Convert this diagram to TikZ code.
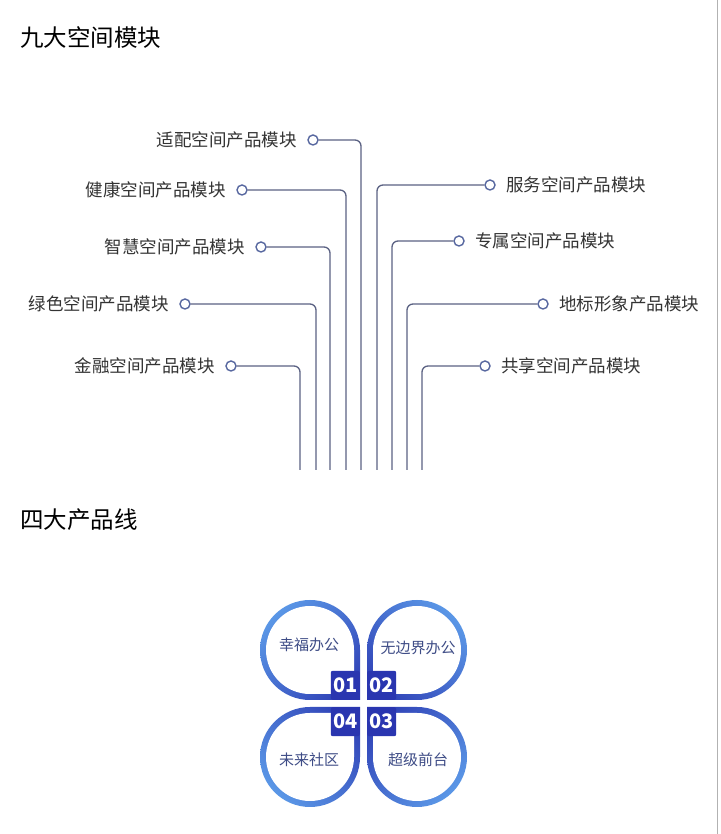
\documentclass[tikz,border=0pt]{standalone}
\usepackage{fontspec}
\setmainfont{Noto Sans CJK SC}
\usetikzlibrary{shadings}
\definecolor{lineC}{HTML}{5B6283}
\definecolor{dotC}{HTML}{5868A0}
\definecolor{txtC}{HTML}{333333}
\definecolor{lightB}{HTML}{63A8F0}
\definecolor{darkB}{HTML}{2A36B0}
\colorlet{midB}{lightB!50!darkB}
\definecolor{petalT}{HTML}{3E4C86}
\tikzset{
  dot/.style={circle,draw=dotC,line width=1.4pt,fill=white,minimum size=10pt,inner sep=0pt},
  conn/.style={draw=lineC,line width=1.3pt,rounded corners=6pt},
  lab/.style={font=\fontsize{17.5}{19}\selectfont,text=txtC,inner sep=0pt},
  head/.style={font=\fontsize{23.5}{26}\selectfont,text=black,anchor=west,inner sep=0pt},
  ptxt/.style={font=\fontsize{15}{17}\selectfont,text=petalT,inner sep=0pt},
  badge/.style={fill=darkB,rounded corners=2pt,minimum size=29pt,inner sep=0pt,text=white,font=\bfseries\fontsize{20}{21}\selectfont}
}
% #1,#2 centre, #3 rotation, #4-#7 colours UL UR LL LR
\newcommand{\mypetal}[7]{%
  \shade[upper left=#4,upper right=#5,lower left=#6,lower right=#7]
   [shift={(#1,#2)},rotate=#3]
    (50,0) arc[start angle=0,end angle=270,radius=50] -- (50,-50) -- cycle;
  \fill[white,shift={(#1,#2)},rotate=#3] (44,0) arc[start angle=0,end angle=270,radius=44] -- (44,-44) -- cycle;}
\begin{document}
\begin{tikzpicture}[x=1pt,y=1pt]
\useasboundingbox[fill=white] (0,0) rectangle (720,834);
\draw[gray!60,line width=1pt] (717,0) -- (717,834);
\node[head] (h1) at (20,796) {九大空间模块};
\node[head] (h2) at (20,314) {四大产品线};
% left
\node[dot] (d1) at (313,694) {}; \node[lab,anchor=east] (l1) at (297,694) {适配空间产品模块};
\node[dot] (d2) at (242,644) {}; \node[lab,anchor=east] (l2) at (226,644) {健康空间产品模块};
\node[dot] (d3) at (261,587) {}; \node[lab,anchor=east] (l3) at (245,587) {智慧空间产品模块};
\node[dot] (d4) at (185,530) {}; \node[lab,anchor=east] (l4) at (169,530) {绿色空间产品模块};
\node[dot] (d5) at (231,468) {}; \node[lab,anchor=east] (l5) at (215,468) {金融空间产品模块};
% right
\node[dot] (d6) at (490,649) {}; \node[lab,anchor=west] (l6) at (506,649) {服务空间产品模块};
\node[dot] (d7) at (459,593) {}; \node[lab,anchor=west] (l7) at (475,593) {专属空间产品模块};
\node[dot] (d8) at (543,530) {}; \node[lab,anchor=west] (l8) at (559,530) {地标形象产品模块};
\node[dot] (d9) at (485,468) {}; \node[lab,anchor=west] (l9) at (501,468) {共享空间产品模块};
\foreach \i/\x in {1/361,2/346,3/330,4/316,5/300}{
  \coordinate (e\i) at (\x,364);
  \draw[conn] (d\i.east) -| (e\i);}
\foreach \i/\x in {6/377,7/392,8/407,9/422}{
  \coordinate (e\i) at (\x,364);
  \draw[conn] (d\i.west) -| (e\i);}
% clover
\mypetal{310}{184}{0}{lightB}{midB}{midB}{darkB}
\mypetal{417}{184}{-90}{midB}{lightB}{darkB}{midB}
\mypetal{417}{77}{180}{darkB}{midB}{midB}{lightB}
\mypetal{310}{77}{90}{midB}{darkB}{lightB}{midB}
\node[badge,anchor=south east] (b1) at (360,134) {01};
\node[badge,anchor=south west] (b2) at (367,134) {02};
\node[badge,anchor=north west] (b3) at (367,127) {03};
\node[badge,anchor=north east] (b4) at (360,127) {04};
\node[ptxt] (p1) at (309,189) {幸福办公};
\node[ptxt] (p2) at (418,186) {无边界办公};
\node[ptxt] (p3) at (418,74) {超级前台};
\node[ptxt] (p4) at (309,74) {未来社区};
\end{tikzpicture}
\end{document}
